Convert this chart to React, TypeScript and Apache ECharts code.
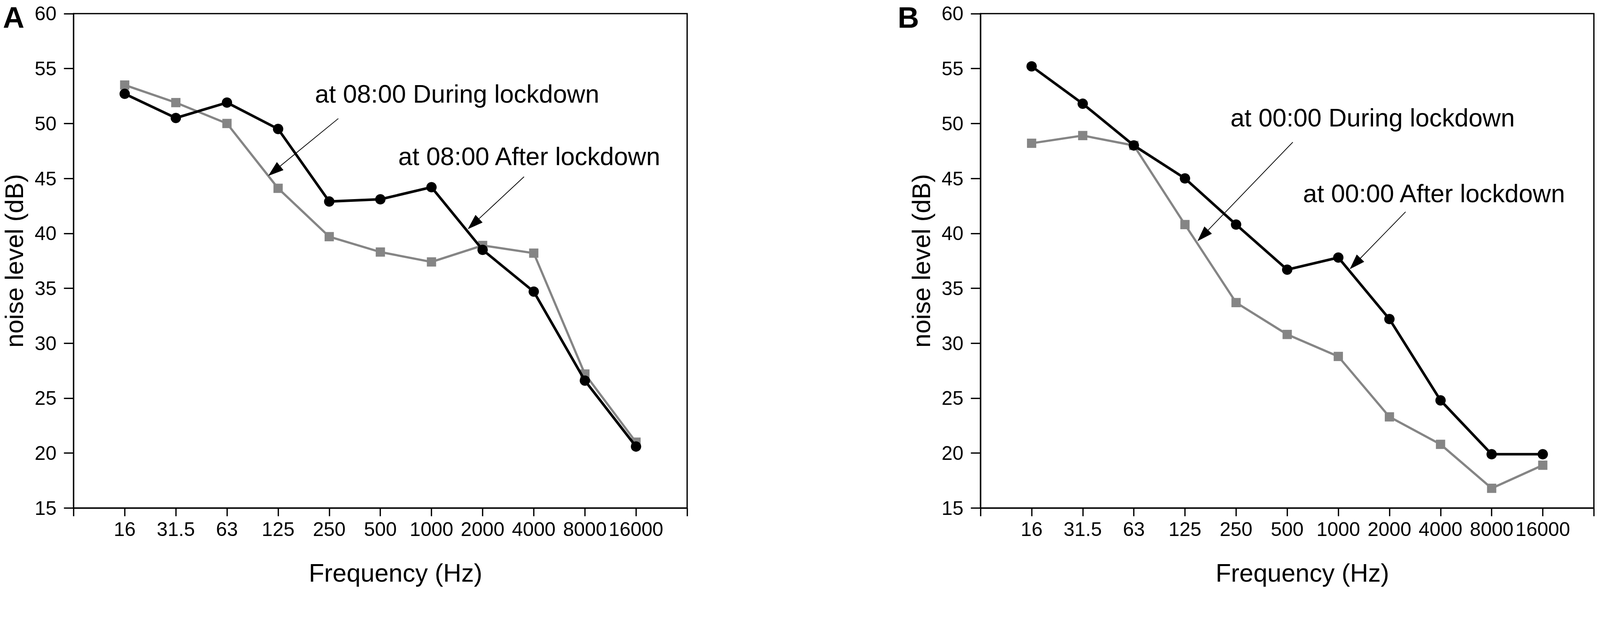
import React, { useEffect, useRef } from "react";
import * as echarts from "echarts";

const freqLabels = ["16", "31.5", "63", "125", "250", "500", "1000", "2000", "4000", "8000", "16000"];
const aDuring = [53.5, 51.9, 50.0, 44.1, 39.7, 38.3, 37.4, 38.9, 38.2, 27.2, 21.0];
const aAfter = [52.7, 50.5, 51.9, 49.5, 42.9, 43.1, 44.2, 38.5, 34.7, 26.6, 20.6];
const bDuring = [48.2, 48.9, 48.0, 40.8, 33.7, 30.8, 28.8, 23.3, 20.8, 16.8, 18.9];
const bAfter = [55.2, 51.8, 48.0, 45.0, 40.8, 36.7, 37.8, 32.2, 24.8, 19.9, 19.9];

const yMin = 15;
const yMax = 60;
const yStep = 5;

const panelLetters = ["A", "B"];
const annotationTexts = [
  "at 08:00 During lockdown",
  "at 08:00 After lockdown",
  "at 00:00 During lockdown",
  "at 00:00 After lockdown",
];
const annotationGrid = [0, 0, 1, 1];
const annotationTextAt = [
  [4.72, 52.67],
  [6.35, 47.0],
  [4.89, 50.5],
  [6.31, 43.6],
];
const arrowFrom = [
  [5.178, 50.45],
  [8.81, 45.15],
  [6.11, 48.3],
  [8.316, 41.96],
];
const arrowTo = [
  [3.814, 45.26],
  [7.716, 40.41],
  [4.251, 39.32],
  [7.23, 36.77],
];

const FONT = "'Liberation Sans', Arial, Helvetica, sans-serif";
const GRAY = "#858585";
const REF_W = 4317;
const REF_H = 1601;

export default function App() {
  const ref = useRef<HTMLDivElement>(null);

  useEffect(() => {
    document.body.style.margin = "0";
    document.body.style.overflow = "hidden";
    if (!ref.current) return;
    const W = window.innerWidth;
    const H = window.innerHeight;
    const s = Math.min(W / REF_W, H / REF_H);
    ref.current.style.width = `${W}px`;
    ref.current.style.height = `${H}px`;
    const chart = echarts.init(ref.current, undefined, { renderer: "svg", width: W, height: H });

    const grids = [
      { left: 198.5 * s, top: 36.7 * s, width: 1655.5 * s, height: 1335 * s },
      { left: 2645.5 * s, top: 36.7 * s, width: 1655 * s, height: 1335 * s },
    ];

    const mkX = (gi: number) => ({
      type: "value",
      gridIndex: gi,
      min: 0,
      max: 12,
      interval: 1,
      name: "Frequency (Hz)",
      nameLocation: "middle",
      nameGap: 141 * s,
      nameTextStyle: { fontFamily: FONT, fontSize: 68 * s, color: "#000", padding: [0, 0, 0, 82 * s] },
      axisLine: { show: true, onZero: false, lineStyle: { color: "#000", width: 3.5 * s } },
      axisTick: { show: true, inside: false, length: 22 * s, lineStyle: { color: "#000", width: 3.5 * s } },
      axisLabel: {
        show: true,
        margin: 31 * s,
        fontFamily: FONT,
        fontSize: 53 * s,
        color: "#000",
        formatter: (v: number) => (v >= 1 && v <= freqLabels.length ? freqLabels[v - 1] : ""),
      },
      splitLine: { show: false },
    });

    const mkY = (gi: number) => ({
      type: "value",
      gridIndex: gi,
      min: yMin,
      max: yMax,
      interval: yStep,
      name: "noise level (dB)",
      nameLocation: "middle",
      nameGap: 125 * s,
      nameTextStyle: { fontFamily: FONT, fontSize: 68 * s, color: "#000" },
      axisLine: { show: true, onZero: false, lineStyle: { color: "#000", width: 3.5 * s } },
      axisTick: { show: true, inside: false, length: 26 * s, lineStyle: { color: "#000", width: 3.5 * s } },
      axisLabel: { show: true, margin: 46 * s, fontFamily: FONT, fontSize: 53 * s, color: "#000" },
      splitLine: { show: false },
    });

    const toPts = (arr: number[]) => arr.map((v, i) => [i + 1, v]);

    const mkSeries = (name: string, gi: number, data: number[], during: boolean) => ({
      type: "line",
      name,
      xAxisIndex: gi,
      yAxisIndex: gi,
      data: toPts(data),
      symbol: during ? "rect" : "circle",
      symbolSize: (during ? 25 : 28) * s,
      showSymbol: true,
      lineStyle: { color: during ? GRAY : "#000", width: (during ? 6 : 7) * s },
      itemStyle: { color: during ? GRAY : "#000" },
      z: during ? 2 : 3,
      silent: true,
    });

    const option: any = {
      animation: false,
      backgroundColor: "#fff",
      textStyle: { fontFamily: FONT },
      grid: grids.map((g) => ({ ...g, show: true, borderColor: "#000", borderWidth: 3.5 * s, backgroundColor: "transparent", containLabel: false })),
      xAxis: [mkX(0), mkX(1)],
      yAxis: [mkY(0), mkY(1)],
      series: [
        mkSeries("at 08:00 During lockdown", 0, aDuring, true),
        mkSeries("at 08:00 After lockdown", 0, aAfter, false),
        mkSeries("at 00:00 During lockdown", 1, bDuring, true),
        mkSeries("at 00:00 After lockdown", 1, bAfter, false),
      ],
    };
    chart.setOption(option);

    const elements: any[] = [];
    elements.push({
      type: "text",
      x: 8 * s,
      y: 47 * s,
      style: { text: panelLetters[0], fontFamily: FONT, fontWeight: "bold", fontSize: 80 * s, lineHeight: 76 * s, fill: "#000", verticalAlign: "middle" },
    });
    elements.push({
      type: "text",
      x: 2422 * s,
      y: 47 * s,
      style: { text: panelLetters[1], fontFamily: FONT, fontWeight: "bold", fontSize: 80 * s, lineHeight: 76 * s, fill: "#000", verticalAlign: "middle" },
    });

    for (let i = 0; i < annotationTexts.length; i++) {
      const gi = annotationGrid[i];
      const tp = chart.convertToPixel({ gridIndex: gi } as any, annotationTextAt[i]) as number[];
      elements.push({
        type: "text",
        x: tp[0],
        y: tp[1],
        style: {
          text: annotationTexts[i],
          fontFamily: FONT,
          fontSize: 68 * s,
          fill: "#000",
          align: "left",
          verticalAlign: "middle",
        },
        z: 10,
      });
      const p0 = chart.convertToPixel({ gridIndex: gi } as any, arrowFrom[i]) as number[];
      const p1 = chart.convertToPixel({ gridIndex: gi } as any, arrowTo[i]) as number[];
      const dx = p1[0] - p0[0];
      const dy = p1[1] - p0[1];
      const len = Math.sqrt(dx * dx + dy * dy);
      const ux = dx / len;
      const uy = dy / len;
      const L = 40 * s;
      const AW = 27 * s;
      const bx = p1[0] - ux * L;
      const by = p1[1] - uy * L;
      const nx = -uy;
      const ny = ux;
      elements.push({
        type: "line",
        shape: { x1: p0[0], y1: p0[1], x2: bx, y2: by },
        style: { stroke: "#000", lineWidth: 2 * s },
        z: 10,
      });
      elements.push({
        type: "polygon",
        shape: {
          points: [
            [p1[0], p1[1]],
            [bx + (nx * AW) / 2, by + (ny * AW) / 2],
            [bx - (nx * AW) / 2, by - (ny * AW) / 2],
          ],
        },
        style: { fill: "#000", stroke: "#000", lineWidth: 1 * s },
        z: 10,
      });
    }

    chart.setOption({ graphic: { elements } });

    return () => {
      chart.dispose();
    };
  }, []);

  return <div ref={ref} style={{ width: "100vw", height: "100vh", background: "#fff" }} />;
}
